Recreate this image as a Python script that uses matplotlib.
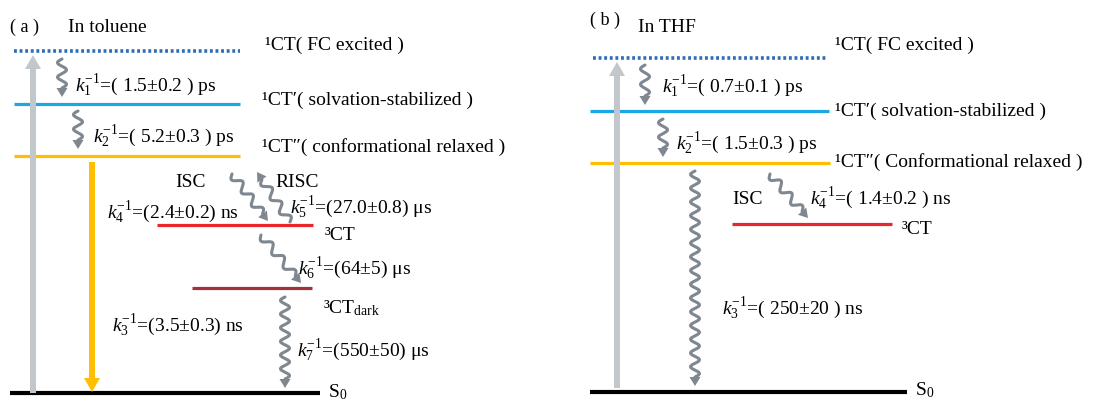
import numpy as np
import matplotlib.pyplot as plt
from matplotlib.patches import FancyArrow

plt.rcParams['font.family'] = ['Liberation Serif', 'DejaVu Serif']
plt.rcParams['mathtext.fontset'] = 'custom'
plt.rcParams['mathtext.rm'] = 'Liberation Serif'
plt.rcParams['mathtext.it'] = 'Liberation Serif:italic'

# level heights (picture rows, top = high energy)
levels_a = {"FC": 52, "solv": 105, "conf": 157, "T": 226, "Tdark": 289, "S0": 394}
levels_b = {"FC": 59, "solv": 112, "conf": 164, "T": 225, "S0": 393}

state_labels_a = ["¹CT( FC excited )", "¹CT′( solvation-stabilized )",
                  "¹CT″( conformational relaxed )", "³CT",
                  "³CT$_{\\mathrm{dark}}$", "S$_0$"]
state_labels_b = ["¹CT( FC excited )", "¹CT′( solvation-stabilized )",
                  "¹CT″( Conformational relaxed )", "³CT", "S$_0$"]

rates_a = ["$k_1^{-1}$=( 1.5±0.2 ) ps", "$k_2^{-1}$=( 5.2±0.3 ) ps",
           "$k_3^{-1}$=(3.5±0.3) ns", "$k_4^{-1}$=(2.4±0.2) ns",
           "$k_5^{-1}$=(27.0±0.8) μs", "$k_6^{-1}$=(64±5) μs",
           "$k_7^{-1}$=(550±50) μs"]
rates_b = ["$k_1^{-1}$=( 0.7±0.1 ) ps", "$k_2^{-1}$=( 1.5±0.3 ) ps",
           "$k_3^{-1}$=( 250±20 ) ns", "$k_4^{-1}$=( 1.4±0.2 ) ns"]

BLUE_DOT = "#2f6db5"
BLUE = "#1ba8e2"
ORANGE = "#ffbf00"
RED = "#e8262c"
DARKRED = "#a3303a"
LIGHTGRAY = "#c2c7cc"
WAVE = "#7f8890"
FS = 14


def level(ax, x0, x1, y, color, lw=2.3, ls="-"):
    ax.plot([x0, x1], [y, y], color=color, lw=lw, ls=ls, solid_capstyle="butt", zorder=2)


def straight(ax, x, y0, y1, color):
    ax.add_patch(FancyArrow(x, y0, 0, y1 - y0, width=6, head_width=16,
                            head_length=14, length_includes_head=True,
                            color=color, lw=0, zorder=3))


def wavy(ax, x0, y0, x1, y1, n, amp=4.5):
    p0 = np.array([x0, y0], float)
    p1 = np.array([x1, y1], float)
    d = p1 - p0
    L = np.hypot(*d)
    u = d / L
    perp = np.array([-u[1], u[0]])
    head = 9
    body_end = p1 - u * head
    t = np.linspace(0, 1, 200)
    pts = p0 + np.outer(t, body_end - p0) + np.outer(amp * np.sin(2 * np.pi * n * t), perp)
    ax.plot(pts[:, 0], pts[:, 1], color=WAVE, lw=2.2, solid_capstyle="round")
    ax.add_patch(FancyArrow(body_end[0], body_end[1], *(p1 - body_end), width=1,
                            head_width=11, head_length=head,
                            length_includes_head=True, color=WAVE, lw=0))


fig = plt.figure(figsize=(10.97, 4.02), dpi=100)
ax = fig.add_axes([0, 0, 1, 1])
ax.set_xlim(0, 1097)
ax.set_ylim(402, 0)
ax.axis("off")

# ---------------- (a) toluene
la = levels_a
straight(ax, 33, la["S0"], la["FC"] + 4, LIGHTGRAY)
level(ax, 14, 240, la["FC"], BLUE_DOT, lw=2.6, ls=(0, (0.8, 0.75)))
level(ax, 14, 240, la["solv"], BLUE)
level(ax, 14, 240, la["conf"], ORANGE)
level(ax, 157, 313, la["T"], RED)
level(ax, 192, 312, la["Tdark"], DARKRED)
level(ax, 10, 320, la["S0"], "black", lw=3)
straight(ax, 92, la["conf"] + 6, la["S0"] - 1, ORANGE)

wavy(ax, 62, la["FC"] + 8, 62, la["solv"] - 7, 2)
wavy(ax, 78, la["solv"] + 7, 78, la["conf"] - 7, 2)
wavy(ax, 232, 175, 268, 222, 3, amp=4)
wavy(ax, 290, 223, 257, 173, 3, amp=4)
wavy(ax, 261, 236, 301, 284, 3, amp=4)
wavy(ax, 285, la["Tdark"] + 9, 285, la["S0"] - 5, 6)

ax.text(10, 27, "( a )", fontsize=13, va="center")
ax.text(68, 27, "In toluene", fontsize=FS, va="center")
xs = [265, 262, 262, 325, 323, 328]
ys = [45, 100, 147, 236, 308, 392]
for x, y, s in zip(xs, ys, state_labels_a):
    ax.text(x, y, s, fontsize=FS, va="center")
rx = [75, 93, 112, 107, 290, 298, 297]
ry = [85, 136, 325, 212, 207, 268, 350]
for x, y, s in zip(rx, ry, rates_a):
    ax.text(x, y, s, fontsize=FS, va="center")
ax.text(175, 183, "ISC", fontsize=FS, va="center")
ax.text(275, 183, "RISC", fontsize=FS, va="center")

# ---------------- (b) THF
lb = levels_b
straight(ax, 617, lb["S0"] - 4, lb["FC"] + 4, LIGHTGRAY)
level(ax, 593, 828, lb["FC"], BLUE_DOT, lw=2.6, ls=(0, (0.8, 0.75)))
level(ax, 590, 829, lb["solv"], BLUE)
level(ax, 590, 830, lb["conf"], ORANGE)
level(ax, 732, 892, lb["T"], RED)
level(ax, 590, 907, lb["S0"], "black", lw=3)

wavy(ax, 645, lb["FC"] + 7, 645, lb["solv"] - 6, 2)
wavy(ax, 663, lb["solv"] + 8, 663, lb["conf"] - 6, 2)
wavy(ax, 695, lb["conf"] + 8, 695, lb["S0"] - 6, 15)
wavy(ax, 770, 175, 808, 219, 3, amp=4)

ax.text(590, 20, "( b )", fontsize=13, va="center")
ax.text(638, 27, "In THF", fontsize=FS, va="center")
xs = [835, 835, 835, 902, 915]
ys = [45, 111, 162, 230, 390]
for x, y, s in zip(xs, ys, state_labels_b):
    ax.text(x, y, s, fontsize=FS, va="center")
rx = [662, 676, 722, 810]
ry = [86, 143, 308, 198]
for x, y, s in zip(rx, ry, rates_b):
    ax.text(x, y, s, fontsize=FS, va="center")
ax.text(732, 200, "ISC", fontsize=FS, va="center")

fig.savefig("out.png", dpi=100)
